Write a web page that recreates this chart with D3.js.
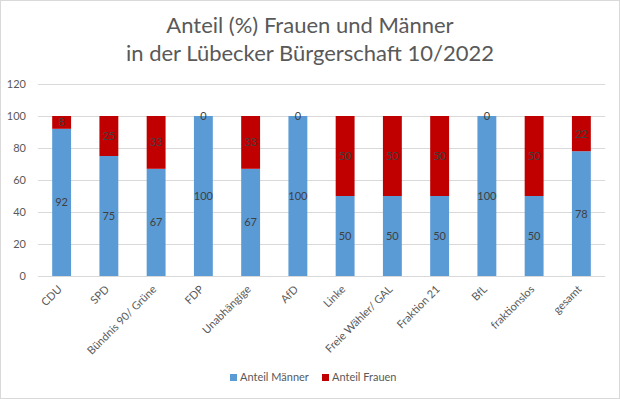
<!DOCTYPE html>
<html>
<head>
<meta charset="utf-8">
<script src="https://cdn.jsdelivr.net/npm/d3@7"></script>
<style>
  body { margin: 0; background: #fff; }
  svg { font-family: Lato, "Open Sans", sans-serif; }
</style>
</head>
<body>
<svg id="chart" width="620" height="399"></svg>
<script>
// data
var categories = ['CDU', 'SPD', 'Bündnis 90/ Grüne', 'FDP', 'Unabhängige', 'AfD', 'Linke',
  'Freie Wähler/ GAL', 'Fraktion 21', 'BfL', 'fraktionslos', 'gesamt']
var maenner = [92, 75, 67, 100, 67, 100, 50, 50, 50, 100, 50, 78]
var frauen = [8, 25, 33, 0, 33, 0, 50, 50, 50, 0, 50, 22]
var seriesNames = ['Anteil Männer', 'Anteil Frauen']
var yTicks = [0, 20, 40, 60, 80, 100, 120]

var colors = ['#5B9BD5', '#C00000']
var svg = d3.select('#chart')

// outer border
svg.append('rect')
  .attr('x', 0.5).attr('y', 0.5)
  .attr('width', 619).attr('height', 398)
  .attr('fill', '#fff').attr('stroke', '#d9d9d9')

// title
var title = svg.append('text')
  .attr('text-anchor', 'middle')
  .attr('fill', '#595959')
  .style('font-size', '22px')
title.append('tspan').attr('x', 310).attr('y', 33).text('Anteil (%) Frauen und Männer')
title.append('tspan').attr('x', 310).attr('y', 61).text('in der Lübecker Bürgerschaft 10/2022')

var x = d3.scaleBand()
  .domain(categories)
  .range([38, 605])
  .paddingInner(0.6)
  .paddingOuter(0.3)

var y = d3.scaleLinear()
  .domain([0, 120])
  .range([276, 84])

// gridlines
svg.append('g')
  .selectAll('line')
  .data(yTicks.filter(function (d) { return d > 0 }))
  .join('line')
  .attr('x1', 38).attr('x2', 605)
  .attr('y1', function (d) { return Math.round(y(d)) + 0.5 })
  .attr('y2', function (d) { return Math.round(y(d)) + 0.5 })
  .attr('stroke', '#d9d9d9')

// y axis labels
svg.append('g')
  .selectAll('text')
  .data(yTicks)
  .join('text')
  .attr('x', 26)
  .attr('y', function (d) { return y(d) + 4 })
  .attr('text-anchor', 'end')
  .attr('fill', '#595959')
  .style('font-size', '11px')
  .text(function (d) { return d })

// stacked bars
var rows = categories.map(function (c, i) {
  return { cat: c, m: maenner[i], f: frauen[i] }
})
var stack = d3.stack().keys(['m', 'f'])(rows)

var layers = svg.append('g')
  .selectAll('g')
  .data(stack)
  .join('g')
  .attr('fill', function (d, i) { return colors[i] })

layers.selectAll('rect')
  .data(function (d) { return d })
  .join('rect')
  .attr('x', function (d) { return x(d.data.cat) })
  .attr('width', x.bandwidth())
  .attr('y', function (d) { return y(d[1]) })
  .attr('height', function (d) { return y(d[0]) - y(d[1]) })

// data labels
layers.each(function (layer) {
  d3.select(this.parentNode).append('g')
    .selectAll('text')
    .data(layer)
    .join('text')
    .attr('x', function (d) { return x(d.data.cat) + x.bandwidth() / 2 })
    .attr('y', function (d) { return (y(d[0]) + y(d[1])) / 2 + 4 })
    .attr('text-anchor', 'middle')
    .attr('fill', '#404040')
    .style('font-size', '11px')
    .text(function (d) { return d[1] - d[0] })
})

// axis line
svg.append('line')
  .attr('x1', 38).attr('x2', 605)
  .attr('y1', 276.5).attr('y2', 276.5)
  .attr('stroke', '#d9d9d9')

// x labels, rotated
svg.append('g')
  .selectAll('text')
  .data(categories)
  .join('text')
  .attr('text-anchor', 'end')
  .attr('fill', '#595959')
  .style('font-size', '11px')
  .attr('transform', function (d) {
    return 'translate(' + (x(d) + x.bandwidth() / 2 + 1) + ',290) rotate(-45)'
  })
  .text(function (d) { return d })

// legend
var legend = svg.append('g').attr('transform', 'translate(230,380)')
seriesNames.forEach(function (name, i) {
  var g = legend.append('g').attr('transform', 'translate(' + (i * 92) + ',0)')
  g.append('rect').attr('x', 0).attr('y', -6).attr('width', 7).attr('height', 7).attr('fill', colors[i])
  g.append('text').attr('x', 10).attr('y', 1).attr('fill', '#595959')
    .style('font-size', '11px').text(name)
})
</script>
</body>
</html>
